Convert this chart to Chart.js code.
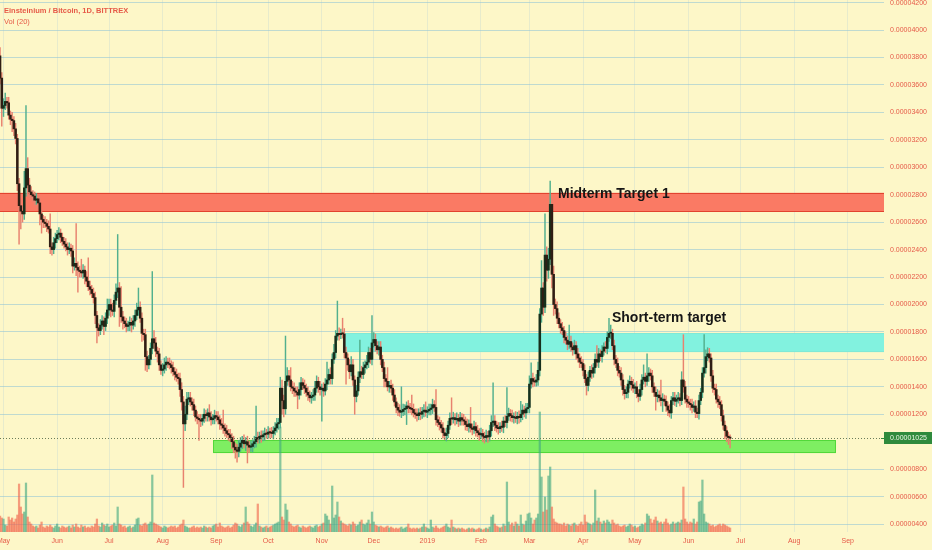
<!DOCTYPE html>
<html><head><meta charset="utf-8">
<script src="https://cdn.jsdelivr.net/npm/chart.js@4.4.1/dist/chart.umd.min.js"></script>
<style>html,body{margin:0;padding:0;background:#fdf7c8;overflow:hidden}canvas{display:block}</style>
</head><body>
<div style="width:932px;height:550px"><canvas id="c" width="932" height="550"></canvas></div>
<script>
// EMC2/BTC daily, prices in satoshi. Day index counted from 1 May 2018.
const firstDay = -2;
const firstOpen = 3813;
const closes = [
3650,3430,3450,3480,3470,3380,3350,3340,3280,3210,
2880,2720,2680,2660,2850,2990,2870,2820,2800,2790,
2760,2770,2740,2660,2620,2600,2590,2570,2550,2420,
2400,2450,2480,2510,2520,2490,2460,2440,2420,2400,
2410,2390,2280,2300,2270,2250,2240,2230,2250,2200,
2170,2130,2110,2080,2050,1920,1830,1810,1850,1880,
1840,1900,1960,2000,1960,1950,2030,2090,2120,1980,
1910,1880,1860,1840,1850,1870,1850,1880,1920,1960,
1980,1900,1790,1780,1620,1560,1600,1680,1750,1720,
1660,1640,1560,1520,1530,1560,1580,1570,1560,1540,
1510,1490,1470,1460,1380,1290,1130,1200,1310,1320,
1290,1270,1230,1180,1170,1160,1150,1170,1200,1190,
1210,1180,1160,1170,1190,1180,1160,1130,1120,1100,
1080,1060,1050,1030,1000,960,940,930,960,990,
1010,985,1000,975,960,965,985,1000,1030,1020,
1040,1035,1050,1060,1055,1070,1065,1060,1080,1100,
1130,1140,1390,1300,1240,1440,1480,1450,1400,1390,
1370,1360,1340,1380,1430,1410,1390,1360,1340,1320,
1330,1340,1390,1440,1400,1380,1390,1370,1420,1450,
1490,1460,1600,1650,1770,1790,1780,1790,1785,1650,
1610,1560,1510,1560,1450,1330,1370,1470,1510,1490,
1540,1560,1580,1650,1600,1720,1745,1700,1670,1690,
1600,1540,1460,1440,1400,1410,1390,1340,1290,1250,
1230,1215,1220,1235,1240,1260,1250,1240,1235,1210,
1200,1190,1210,1200,1220,1230,1215,1225,1235,1245,
1270,1250,1160,1140,1125,1100,1065,1045,1060,1120,
1170,1165,1175,1160,1170,1150,1175,1160,1150,1125,
1110,1130,1100,1090,1110,1080,1065,1050,1060,1040,
1030,1045,1035,1080,1140,1150,1120,1100,1095,1110,
1105,1150,1140,1185,1205,1190,1175,1180,1170,1185,
1175,1200,1230,1210,1240,1250,1420,1460,1440,1435,
1450,1520,1930,2120,1980,2360,2250,2330,2730,2220,
2000,1970,1900,1860,1830,1810,1760,1740,1710,1730,
1690,1670,1700,1640,1610,1580,1570,1520,1460,1410,
1470,1520,1500,1540,1600,1580,1640,1620,1660,1690,
1680,1760,1790,1790,1700,1600,1570,1520,1500,1450,
1380,1350,1360,1420,1440,1415,1390,1400,1350,1330,
1380,1450,1470,1440,1480,1500,1480,1400,1360,1330,
1340,1320,1300,1310,1295,1260,1230,1210,1300,1320,
1295,1310,1320,1300,1450,1400,1310,1290,1280,1270,
1250,1260,1215,1205,1300,1360,1500,1540,1620,1640,
1610,1480,1390,1380,1310,1290,1270,1190,1120,1080,
1040,1030,1025
];
const upperWick = [
60,40,50,60,30,40,30,50,30,40,
30,40,40,40,120,460,80,50,40,30,
30,40,30,40,30,30,40,30,40,110,
30,40,40,30,40,30,30,30,40,30,
40,30,40,40,290,40,30,90,40,30,
40,170,40,30,40,40,30,30,40,40,
30,40,80,40,40,50,40,60,390,40,
150,40,30,40,30,40,30,40,40,50,
140,40,40,30,40,40,30,40,490,60,
40,30,40,30,40,50,40,30,40,30,
40,30,40,30,40,50,40,60,50,40,
40,30,40,30,40,30,40,30,40,30,
30,60,40,30,40,30,40,30,40,110,
30,40,30,40,30,40,30,40,50,40,
30,40,30,40,30,40,30,40,230,40,
30,40,30,40,30,40,30,40,30,40,
40,30,80,60,40,330,60,40,90,40,
40,30,40,50,40,30,40,30,40,30,
30,40,50,40,30,40,30,40,40,130,
40,50,40,60,40,235,40,30,110,40,
40,30,40,60,40,30,40,40,230,40,
40,30,50,40,30,200,50,40,30,40,
40,30,40,30,100,30,40,30,40,30,
30,40,180,40,30,30,40,30,100,40,
30,40,30,40,30,40,60,30,40,30,
40,30,130,30,40,30,40,30,40,30,
40,150,40,30,40,30,40,30,40,30,
40,30,120,30,40,30,40,30,40,30,
30,40,30,40,50,280,40,30,40,30,
40,30,40,210,40,30,40,30,40,30,
40,95,40,30,40,30,60,115,40,30,
40,60,40,200,40,300,60,80,170,40,
60,40,50,40,30,40,30,40,30,120,
40,30,40,30,40,30,40,30,40,30,
40,30,40,30,40,100,40,30,40,30,
40,40,110,60,30,40,30,40,30,40,
40,30,40,30,40,30,40,30,40,30,
40,40,90,30,160,40,30,40,30,40,
40,30,130,40,30,40,30,40,30,40,
40,30,40,30,60,330,40,30,40,30,
40,30,40,30,40,30,40,240,50,45,
40,30,40,30,40,30,40,30,40,30,
30,30,20
];
const lowerWick = [
40,130,60,30,40,30,40,80,50,40,
50,280,130,60,40,60,80,40,30,40,
40,30,40,80,100,40,30,40,30,50,
40,30,40,30,40,40,30,30,30,40,
30,40,50,30,60,160,40,30,40,50,
40,30,40,30,40,60,110,40,30,30,
60,30,40,40,50,30,40,30,40,140,
40,60,30,40,30,40,50,30,40,30,
40,30,60,40,100,50,30,40,40,40,
40,60,40,30,40,30,40,30,30,40,
30,40,30,40,50,60,463,50,40,40,
30,40,40,30,40,150,40,30,30,40,
40,30,40,30,40,30,30,40,30,40,
40,30,40,30,50,40,60,80,40,30,
40,30,50,130,40,30,40,30,40,30,
30,40,30,40,30,30,40,30,40,30,
30,40,40,100,60,40,30,40,30,40,
40,30,100,30,40,30,40,30,40,30,
40,30,40,30,40,40,230,40,30,40,
30,40,40,30,40,30,40,30,30,40,
190,40,50,30,40,130,40,30,40,30,
30,40,30,40,30,40,30,40,30,40,
40,30,60,40,30,40,30,40,30,40,
40,30,40,30,40,115,40,30,40,30,
30,40,30,40,30,40,30,40,30,40,
40,30,40,30,40,30,40,30,40,30,
30,40,30,40,30,40,30,40,30,40,
30,40,30,40,30,40,30,40,30,40,
40,30,40,30,40,30,40,30,40,30,
30,40,30,40,30,40,30,40,30,40,
40,30,40,30,40,30,40,30,40,30,
30,40,40,60,60,40,80,60,40,100,
80,40,40,30,40,30,40,30,40,30,
30,40,30,40,30,40,30,40,30,70,
40,30,40,30,40,30,40,30,40,30,
30,40,30,40,30,40,30,40,30,40,
40,40,30,40,30,40,30,40,30,40,
30,40,30,40,30,40,30,40,30,100,
40,30,40,80,30,40,40,30,40,30,
30,40,30,40,30,40,30,40,30,40,
40,30,40,30,40,30,40,30,40,30,
30,40,30,40,30,40,30,40,30,60,
40,50,70
];
const volumes = [
3.2,2.8,2.6,1.4,1.2,3.0,2.4,2.8,2.0,2.6,
3.4,9.6,5.0,3.6,4.0,9.8,3.0,2.0,1.6,1.2,
1.0,1.2,0.8,1.4,2.0,1.0,0.8,1.2,1.0,1.4,
1.0,0.8,1.2,1.6,1.0,0.8,1.2,1.0,0.8,1.0,
1.2,0.8,1.4,1.0,1.6,1.0,0.8,1.4,1.0,1.2,
0.8,1.0,0.8,1.2,1.0,1.6,2.6,1.2,1.0,1.8,
1.4,1.2,1.6,1.0,1.2,1.4,1.8,1.2,5.0,1.6,
1.4,1.0,1.2,0.8,1.0,1.2,0.8,1.0,1.4,2.6,
2.8,1.4,1.2,1.6,1.8,1.4,1.6,2.0,11.4,1.8,
1.6,1.4,1.2,1.0,0.8,1.2,1.0,0.8,1.0,1.2,
1.0,1.2,0.8,1.0,1.4,1.6,2.4,1.2,1.0,0.8,
0.8,1.0,1.2,0.8,1.0,0.8,1.0,0.8,1.2,1.0,
0.8,1.0,0.8,1.2,1.4,1.6,1.0,1.8,1.2,1.0,
0.8,1.0,1.2,0.8,1.0,1.4,1.8,1.6,1.2,1.0,
1.4,1.8,5.0,2.0,1.6,1.2,1.0,1.4,1.8,5.6,
1.2,1.0,0.8,1.0,1.2,0.8,1.0,1.2,1.4,1.6,
1.8,2.0,21.0,3.0,2.4,5.6,4.4,2.0,1.6,1.2,
1.0,1.2,1.4,1.0,0.8,1.2,1.0,0.8,1.0,1.2,
1.0,0.8,1.2,1.4,1.0,1.2,1.6,1.8,3.6,3.2,
2.4,1.6,9.2,2.8,3.4,6.0,3.0,2.2,1.8,1.6,
1.4,1.2,1.6,1.4,2.0,1.6,1.2,1.4,2.0,2.4,
1.6,1.4,1.8,2.4,1.6,4.0,2.0,1.4,1.2,1.0,
1.2,1.0,0.8,1.0,1.2,0.8,1.0,0.8,0.6,0.8,
0.6,0.8,1.0,0.6,0.8,1.0,1.6,0.8,0.6,0.8,
0.6,0.8,0.6,0.8,1.0,1.6,1.0,0.8,0.6,2.4,
1.0,0.8,1.2,0.8,0.6,0.8,1.0,1.2,1.6,1.0,
0.8,2.4,1.0,0.8,0.6,0.8,0.6,0.8,0.6,0.4,
0.6,0.8,0.6,0.8,0.6,0.4,0.6,0.8,0.6,0.4,
0.6,0.8,0.6,1.0,3.0,3.4,1.6,1.2,1.0,0.8,
1.0,1.6,1.2,10.0,2.0,1.4,1.8,1.2,2.0,1.6,
1.2,3.4,1.6,1.4,2.2,3.6,3.8,2.8,1.6,2.4,
2.8,3.6,24.0,11.0,4.0,7.0,4.4,11.2,13.0,5.0,
2.6,2.0,1.8,1.6,1.6,1.4,1.8,1.2,1.6,1.4,
1.2,1.6,1.8,1.4,1.2,1.6,2.0,1.4,3.4,2.0,
1.8,1.6,1.4,1.8,8.4,2.2,2.8,2.0,1.6,2.2,
1.8,2.4,2.0,1.6,2.4,1.8,1.4,1.6,1.2,1.0,
1.2,1.4,1.0,1.2,1.6,1.4,1.0,1.2,0.8,1.0,
1.2,1.6,1.4,1.8,3.6,3.2,2.6,1.8,2.4,3.0,
2.2,1.8,2.0,1.6,2.0,2.6,1.8,1.4,1.6,2.0,
1.6,1.8,2.0,1.8,2.4,9.0,2.6,2.0,1.6,2.0,
1.8,2.6,1.6,2.0,6.0,6.2,10.4,3.6,2.0,1.8,
1.6,1.2,1.4,1.0,1.2,1.4,1.6,1.2,1.6,1.4,
1.2,1.0,0.8
];
const monthTickDays = [0,31,61,92,123,153,184,214,245,276,304,335,365,396,426,457,488];
const monthTickLabels = ['May','Jun','Jul','Aug','Sep','Oct','Nov','Dec','2019','Feb','Mar','Apr','May','Jun','Jul','Aug','Sep'];
const priceTicks = [4200,4000,3800,3600,3400,3200,3000,2800,2600,2400,2200,2000,1800,1600,1400,1200,800,600,400];
const priceTickLabels = ['0.00004200','0.00004000','0.00003800','0.00003600','0.00003400','0.00003200','0.00003000','0.00002800','0.00002600','0.00002400','0.00002200','0.00002000','0.00001800','0.00001600','0.00001400','0.00001200','0.00000800','0.00000600','0.00000400'];
const lastPrice = 1025;
const lastPriceLabel = '0.00001025';
const headerTitle = 'Einsteinium / Bitcoin, 1D, BITTREX';
const headerVol = 'Vol (20)';
const zoneBounds = [
  {from: -3, to: 520, low: 2676, high: 2814},
  {from: 196.2, to: 520, low: 1653, high: 1792},
  {from: 121.1, to: 481.2, low: 917, high: 1012}
];
const noteTexts = [
  {day: 320.5, price: 2779, text: 'Midterm Target 1'},
  {day: 351.7, price: 1872, text: 'Short-term target'}
];

// ---- styles ----
const BG = '#fdf7c8';
const LABEL = '#e65a48';
const zoneStyles = [
  {fill: '#fa7a64', line: '#e2432f'},
  {fill: '#82f2df', line: '#7fe9d6'},
  {fill: '#7eee62', line: '#52d83a'}
];

const candles = closes.map((c, i) => {
  const o = i === 0 ? firstOpen : closes[i - 1];
  return {x: firstDay + i, o: o, c: c, h: Math.max(o, c) + upperWick[i], l: Math.min(o, c) - lowerWick[i]};
});
const isUp = i => (i != null && candles[i]) ? candles[i].c >= candles[i].o : true;

const bgPlugin = {
  id: 'bg',
  beforeDraw(chart) {
    const ctx = chart.ctx;
    ctx.save(); ctx.fillStyle = BG; ctx.fillRect(0, 0, chart.width, chart.height); ctx.restore();
  },
  beforeDatasetsDraw(chart) {
    const {ctx, chartArea: a, scales: {x, y}} = chart;
    ctx.save();
    ctx.beginPath(); ctx.rect(a.left, a.top, a.right - a.left, a.bottom - a.top); ctx.clip();
    zoneBounds.forEach((z, k) => {
      const x0 = x.getPixelForValue(z.from), x1 = x.getPixelForValue(z.to);
      const y0 = y.getPixelForValue(z.high), y1 = y.getPixelForValue(z.low);
      ctx.fillStyle = zoneStyles[k].fill;
      ctx.fillRect(x0, y0, x1 - x0, y1 - y0);
      ctx.strokeStyle = zoneStyles[k].line; ctx.lineWidth = 1;
      ctx.strokeRect(x0 + 0.5, Math.round(y0) + 0.5, x1 - x0 - 1, Math.round(y1 - y0) - 1);
    });
    ctx.restore();
  },
  afterDatasetsDraw(chart) {
    const {ctx, chartArea: a, scales: {x, y}} = chart;
    ctx.save();
    const py = Math.round(y.getPixelForValue(lastPrice)) + 0.5;
    ctx.strokeStyle = '#6b7d5a'; ctx.lineWidth = 1; ctx.setLineDash([1, 2]);
    ctx.beginPath(); ctx.moveTo(a.left, py); ctx.lineTo(a.right, py); ctx.stroke();
    ctx.setLineDash([]);
    ctx.fillStyle = '#161616';
    ctx.font = 'bold 14px "Liberation Sans", Arial, sans-serif';
    ctx.textBaseline = 'alphabetic'; ctx.textAlign = 'left';
    noteTexts.forEach(n => ctx.fillText(n.text, x.getPixelForValue(n.day), y.getPixelForValue(n.price)));
    ctx.restore();
  },
  afterDraw(chart) {
    const {ctx, chartArea: a, scales: {y}} = chart;
    ctx.save();
    const py = y.getPixelForValue(lastPrice);
    ctx.fillStyle = '#2f8a3c';
    ctx.fillRect(a.right, Math.round(py) - 6, chart.width - a.right, 12);
    ctx.strokeStyle = '#2f8a3c'; ctx.beginPath(); ctx.moveTo(a.right - 3, Math.round(py) + 0.5); ctx.lineTo(a.right, Math.round(py) + 0.5); ctx.stroke();
    ctx.fillStyle = '#eef7e6';
    ctx.font = '7px "Liberation Sans", Arial, sans-serif';
    ctx.textBaseline = 'middle'; ctx.textAlign = 'left';
    ctx.fillText(lastPriceLabel, a.right + 6, py);
    ctx.fillStyle = LABEL;
    ctx.font = 'bold 7.5px "Liberation Sans", Arial, sans-serif';
    ctx.textBaseline = 'alphabetic';
    ctx.fillText(headerTitle, 4, 13);
    ctx.font = '7.5px "Liberation Sans", Arial, sans-serif';
    ctx.fillText(headerVol, 4, 24);
    ctx.restore();
  }
};

new Chart(document.getElementById('c'), {
  type: 'bar',
  data: {
    datasets: [
      {
        label: 'body', yAxisID: 'y', order: 1, grouped: false,
        data: candles.map(k => ({x: k.x, y: [k.o, k.c]})),
        backgroundColor: ctx => isUp(ctx.dataIndex) ? '#16301c' : '#2f1e14',
        barThickness: 1.9, minBarLength: 1.2
      },
      {
        label: 'wick', yAxisID: 'y', order: 2, grouped: false,
        data: candles.map(k => ({x: k.x, y: [k.l, k.h]})),
        backgroundColor: ctx => isUp(ctx.dataIndex) ? '#52b08e' : '#e8826f',
        barThickness: 0.8
      },
      {
        label: 'volume', yAxisID: 'yv', order: 3, grouped: false,
        data: volumes.map((v, i) => ({x: firstDay + i, y: v})),
        backgroundColor: ctx => isUp(ctx.dataIndex) ? 'rgba(64,168,128,0.62)' : 'rgba(240,95,72,0.6)',
        barThickness: 1.6
      }
    ]
  },
  options: {
    responsive: false, animation: false, devicePixelRatio: 1,
    layout: {padding: 0},
    plugins: {legend: {display: false}, tooltip: {enabled: false}, title: {display: false}},
    scales: {
      x: {
        type: 'linear', min: -2.023, max: 508.96, offset: false,
        grid: {offset: false, color: 'rgba(175,205,215,0.28)', drawTicks: false},
        border: {display: false},
        afterBuildTicks: s => { s.ticks = monthTickDays.map(v => ({value: v})); },
        afterFit: s => { s.height = 18; s.paddingLeft = 0; s.paddingRight = 0; },
        ticks: {
          autoSkip: false, maxRotation: 0, padding: 5, color: LABEL,
          font: {size: 7, family: '"Liberation Sans", Arial, sans-serif'},
          callback: (v, i) => monthTickLabels[i]
        }
      },
      y: {
        type: 'linear', position: 'right', min: 342, max: 4219, beginAtZero: false,
        grid: {color: 'rgba(150,198,214,0.6)', drawTicks: false},
        border: {display: false},
        afterBuildTicks: s => { s.ticks = priceTicks.map(v => ({value: v})); },
        afterFit: s => { s.width = 48; s.paddingTop = 0; s.paddingBottom = 0; },
        ticks: {
          padding: 6, color: LABEL,
          font: {size: 7, family: '"Liberation Sans", Arial, sans-serif'},
          callback: (v, i) => priceTickLabels[i]
        }
      },
      yv: {
        type: 'linear', display: false, min: 0, max: 106.4
      }
    }
  },
  plugins: [bgPlugin]
});
</script>
</body></html>
